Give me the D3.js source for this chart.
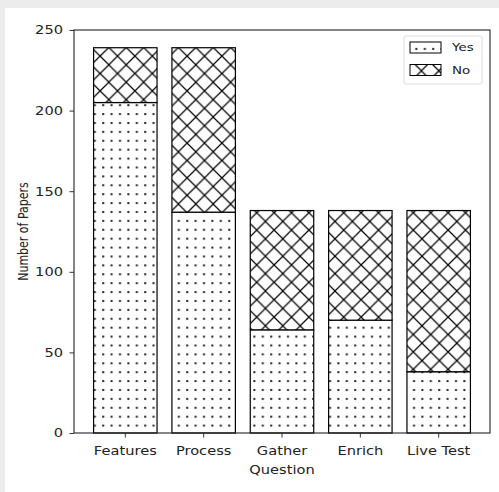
<!DOCTYPE html>
<meta charset="utf-8">
<style>
body { margin: 0; background: #ececec; }
text { font-family: "DejaVu Sans", sans-serif; fill: #222; }
</style>
<body>
<script src="https://cdn.jsdelivr.net/npm/d3@7"></script>
<script>

// data
var questions = ["Features", "Process", "Gather", "Enrich", "Live Test"];
var yesCounts = [205, 137, 64, 70, 38];
var noCounts  = [34, 102, 74, 68, 100];
var yTicks = [0, 50, 100, 150, 200, 250];

var margin = {top: 30, right: 9, bottom: 59, left: 74},
    width = 499 - margin.left - margin.right,
    height = 492 - margin.top - margin.bottom;

// the picture is a bit wider than tall, so text is stretched sideways
var sx = 1.22;

var svg = d3.select("body").append("svg")
    .attr("width", 499)
    .attr("height", 492);

// grey frame round a white card
svg.append("rect").attr("width", 499).attr("height", 492).attr("fill", "#ececec");
svg.append("rect").attr("x", 5).attr("y", 8).attr("width", 494).attr("height", 484).attr("fill", "#fff");

// hatch patterns
var defs = svg.append("defs");
var dots = defs.append("pattern")
    .attr("id", "dots")
    .attr("patternUnits", "userSpaceOnUse")
    .attr("width", 8.4).attr("height", 8.9);
dots.append("rect").attr("width", 8.4).attr("height", 8.9).attr("fill", "#fff");
dots.append("rect").attr("x", 3).attr("y", 3).attr("width", 2).attr("height", 2).attr("fill", "#222");

var cross = defs.append("pattern")
    .attr("id", "cross")
    .attr("patternUnits", "userSpaceOnUse")
    .attr("width", 17.4).attr("height", 17.4);
cross.append("rect").attr("width", 17.4).attr("height", 17.4).attr("fill", "#fff");
cross.append("path")
    .attr("d", "M-1,-1L18.4,18.4M-1,18.4L18.4,-1M-9.7,8.7L8.7,27.1M8.7,-9.7L27.1,8.7M-9.7,8.7L8.7,-9.7M8.7,27.1L27.1,8.7")
    .attr("stroke", "#000").attr("stroke-width", 1.2);

var g = svg.append("g")
    .attr("transform", "translate(" + margin.left + "," + margin.top + ")");

var x = d3.scaleBand()
    .domain(questions)
    .range([0, width])
    .paddingInner(0.19)
    .paddingOuter(0.25);
var y = d3.scaleLinear().domain([0, 250]).range([height, 0]);

var data = questions.map(function(q, i) {
  return {q: q, yes: yesCounts[i], no: noCounts[i]};
});

// Yes part
g.selectAll(".yes")
    .data(data)
  .enter().append("rect")
    .attr("class", "yes")
    .attr("x", function(d) { return x(d.q); })
    .attr("y", function(d) { return y(d.yes); })
    .attr("width", x.bandwidth())
    .attr("height", function(d) { return y(0) - y(d.yes); })
    .attr("fill", "url(#dots)")
    .attr("stroke", "#000")
    .attr("stroke-width", 1.2);

// No part stacked on top
g.selectAll(".no")
    .data(data)
  .enter().append("rect")
    .attr("class", "no")
    .attr("x", function(d) { return x(d.q); })
    .attr("y", function(d) { return y(d.yes + d.no); })
    .attr("width", x.bandwidth())
    .attr("height", function(d) { return y(d.yes) - y(d.yes + d.no); })
    .attr("fill", "url(#cross)")
    .attr("stroke", "#000")
    .attr("stroke-width", 1.2);

// axes
var xAxis = g.append("g")
    .attr("transform", "translate(0," + height + ")")
    .call(d3.axisBottom(x).tickSizeOuter(0).tickSize(4.5).tickPadding(9));
var yAxis = g.append("g")
    .call(d3.axisLeft(y).tickValues(yTicks).tickSizeOuter(0).tickSize(4.5).tickPadding(6.5));
[xAxis, yAxis].forEach(function(a) {
  a.select(".domain").remove();
  a.selectAll("line").attr("stroke", "#333");
  a.selectAll("text")
      .style("font-size", "12px")
      .style("font-family", "DejaVu Sans")
      .attr("fill", "#222")
      .attr("transform", "scale(" + sx + ",1)");
});
yAxis.selectAll("text").attr("x", -11 / sx);

// frame
g.append("rect")
    .attr("width", width).attr("height", height)
    .attr("fill", "none").attr("stroke", "#222").attr("stroke-width", 1.1);

svg.append("text")
    .attr("transform", "translate(" + (margin.left + width / 2) + ",474) scale(" + sx + ",1)")
    .attr("text-anchor", "middle")
    .style("font-size", "12px")
    .text("Question");

svg.append("text")
    .attr("transform", "translate(28," + (margin.top + height / 2) + ") rotate(-90) scale(1," + sx + ")")
    .attr("text-anchor", "middle")
    .style("font-size", "11px")
    .text("Number of Papers");

// legend
var legend = svg.append("g").attr("transform", "translate(404,36)");
legend.append("rect")
    .attr("width", 78).attr("height", 48).attr("rx", 2)
    .attr("fill", "#fff").attr("stroke", "#ddd");
var items = [{label: "Yes", fill: "url(#dots)"}, {label: "No", fill: "url(#cross)"}];
items.forEach(function(it, i) {
  legend.append("rect")
      .attr("x", 6).attr("y", 6 + i * 22.5)
      .attr("width", 31).attr("height", 11)
      .attr("fill", it.fill).attr("stroke", "#000");
  legend.append("text")
      .attr("transform", "translate(48," + (11.5 + i * 22.5) + ") scale(" + sx + ",1)")
      .attr("dy", "0.35em")
      .style("font-size", "11px")
      .text(it.label);
});

</script>
</body>
